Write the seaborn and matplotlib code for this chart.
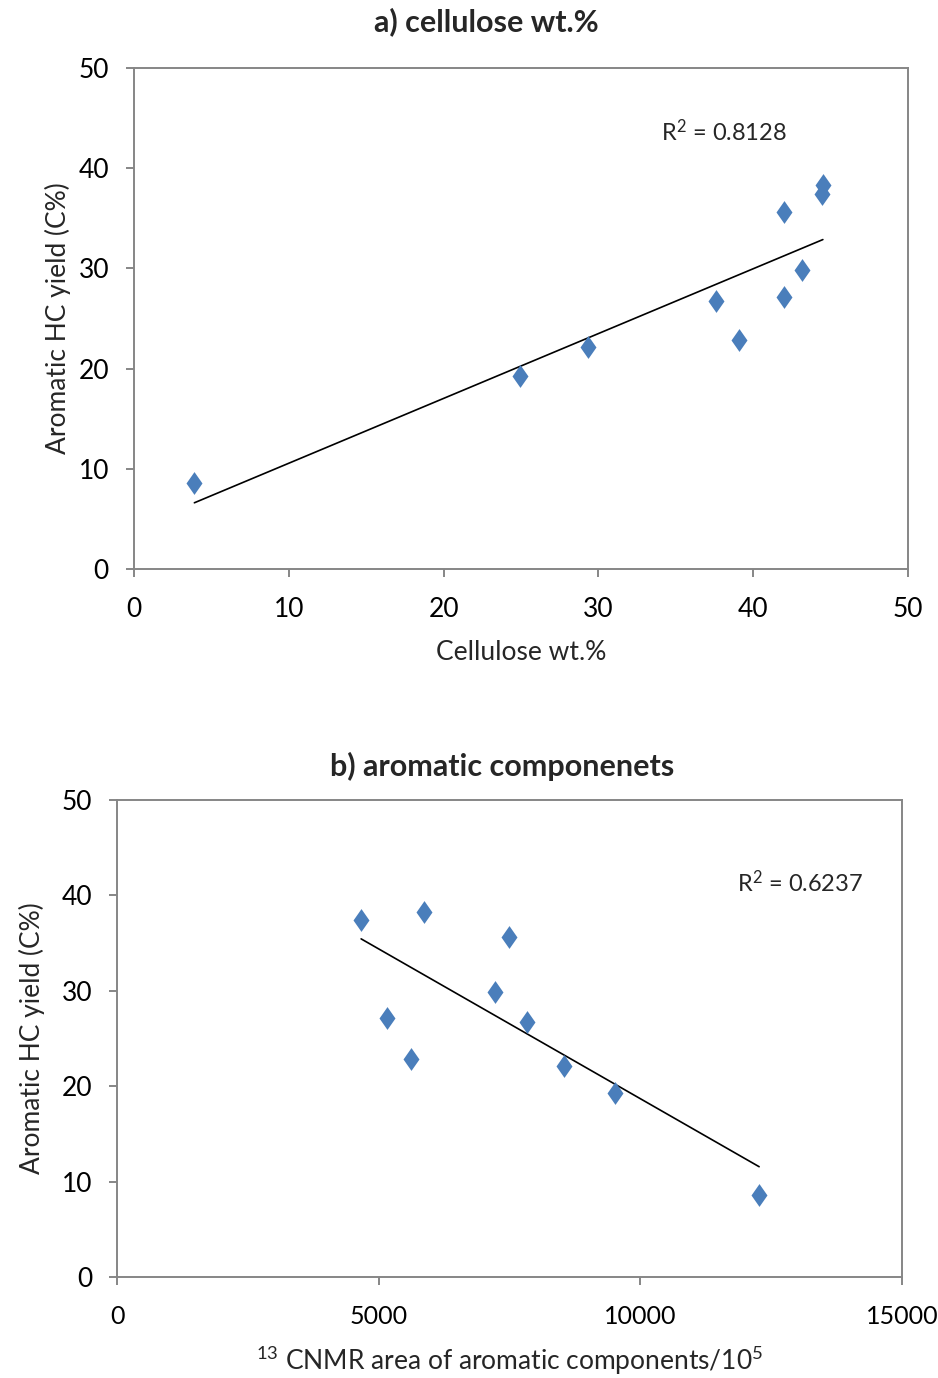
import numpy as np
import pandas as pd
import matplotlib
matplotlib.use("Agg")
import matplotlib.pyplot as plt
from matplotlib.path import Path
import seaborn as sns

# Aromatic hydrocarbon yield (C%) for each feedstock
hc_yield = [8.6, 19.3, 22.15, 26.75, 22.9, 35.6, 27.1, 29.85, 38.3, 37.4]
# Cellulose content (wt.%)
cellulose = [3.9, 24.95, 29.35, 37.6, 39.1, 42.0, 42.0, 43.15, 44.5, 44.45]
# 13C NMR area of aromatic components (/10^5)
nmr_area = [12270, 9520, 8540, 7835, 5620, 7490, 5160, 7225, 5865, 4665]

r2_labels = ["R$^{2}$ = 0.8128", "R$^{2}$ = 0.6237"]
titles = ["a) cellulose wt.%", "b) aromatic componenets"]

sns.set_theme(style="white")
plt.rcParams["font.family"] = ["Lato", "DejaVu Sans"]
plt.rcParams["mathtext.fontset"] = "custom"
plt.rcParams["mathtext.rm"] = "Lato"
plt.rcParams["mathtext.it"] = "Lato:italic"
plt.rcParams["mathtext.bf"] = "Lato:bold"
plt.rcParams["mathtext.default"] = "regular"

W, H = 938, 1378
fig = plt.figure(figsize=(W / 100, H / 100), dpi=100)

blue = "#4A7EBB"
grey = "#868686"
diamond = Path([(0, 1), (0.7, 0), (0, -1), (-0.7, 0), (0, 1)],
               [Path.MOVETO, Path.LINETO, Path.LINETO, Path.LINETO, Path.CLOSEPOLY])

df = pd.DataFrame({"yield": hc_yield, "cellulose": cellulose, "nmr": nmr_area})

TICK_FS = 19
LABEL_FS = 19


def box(l, t, r, b):
    return [l / W, 1 - b / H, (r - l) / W, (b - t) / H]


def style(ax):
    for s in ax.spines.values():
        s.set_color(grey)
        s.set_linewidth(1.4)
        s.set_visible(True)
    ax.tick_params(axis="both", direction="out", length=6, width=1.4,
                   color=grey, labelsize=TICK_FS, labelcolor="black")
    ax.tick_params(axis="y", pad=12, left=True)
    ax.tick_params(axis="x", bottom=True)


# Panel a
ax1 = fig.add_axes(box(134, 68, 908, 569))
sns.regplot(data=df, x="cellulose", y="yield", scatter=False, ci=None,
            truncate=True, color="black", line_kws={"linewidth": 1.2}, ax=ax1)
sns.scatterplot(data=df, x="cellulose", y="yield", marker=diamond, s=270,
                color=blue, edgecolor=blue, linewidth=0, ax=ax1, zorder=3)
ax1.set_xlim(0, 50)
ax1.set_ylim(0, 50)
ax1.set_xticks(range(0, 51, 10))
ax1.set_yticks(range(0, 51, 10))
style(ax1)
ax1.tick_params(axis="x", pad=14)
ax1.set_xlabel("Cellulose wt.%", fontsize=LABEL_FS, labelpad=13)
ax1.set_ylabel("Aromatic HC yield (C%)", fontsize=LABEL_FS, labelpad=5)
fig.text(661 / W, 1 - 132 / H, r2_labels[0], fontsize=17, ha="left", va="center")
fig.text(486 / W, 1 - 22 / H, titles[0], fontsize=22, fontweight="bold",
         ha="center", va="center")

# Panel b
ax2 = fig.add_axes(box(117, 800, 902, 1277))
sns.regplot(data=df, x="nmr", y="yield", scatter=False, ci=None,
            truncate=True, color="black", line_kws={"linewidth": 1.2}, ax=ax2)
sns.scatterplot(data=df, x="nmr", y="yield", marker=diamond, s=270,
                color=blue, edgecolor=blue, linewidth=0, ax=ax2, zorder=3)
ax2.set_xlim(0, 15000)
ax2.set_ylim(0, 50)
ax2.set_xticks(range(0, 15001, 5000))
ax2.set_yticks(range(0, 51, 10))
style(ax2)
ax2.tick_params(axis="x", pad=14, labelsize=18)
ax2.set_xlabel("$^{13}$ CNMR area of aromatic components/10$^{5}$",
               fontsize=LABEL_FS, labelpad=12)
ax2.set_ylabel("Aromatic HC yield (C%)", fontsize=LABEL_FS, labelpad=12)
fig.text(737 / W, 1 - 883 / H, r2_labels[1], fontsize=17, ha="left", va="center")
fig.text(502 / W, 1 - 766 / H, titles[1], fontsize=22, fontweight="bold",
         ha="center", va="center")

fig.savefig("out.png", dpi=100)
